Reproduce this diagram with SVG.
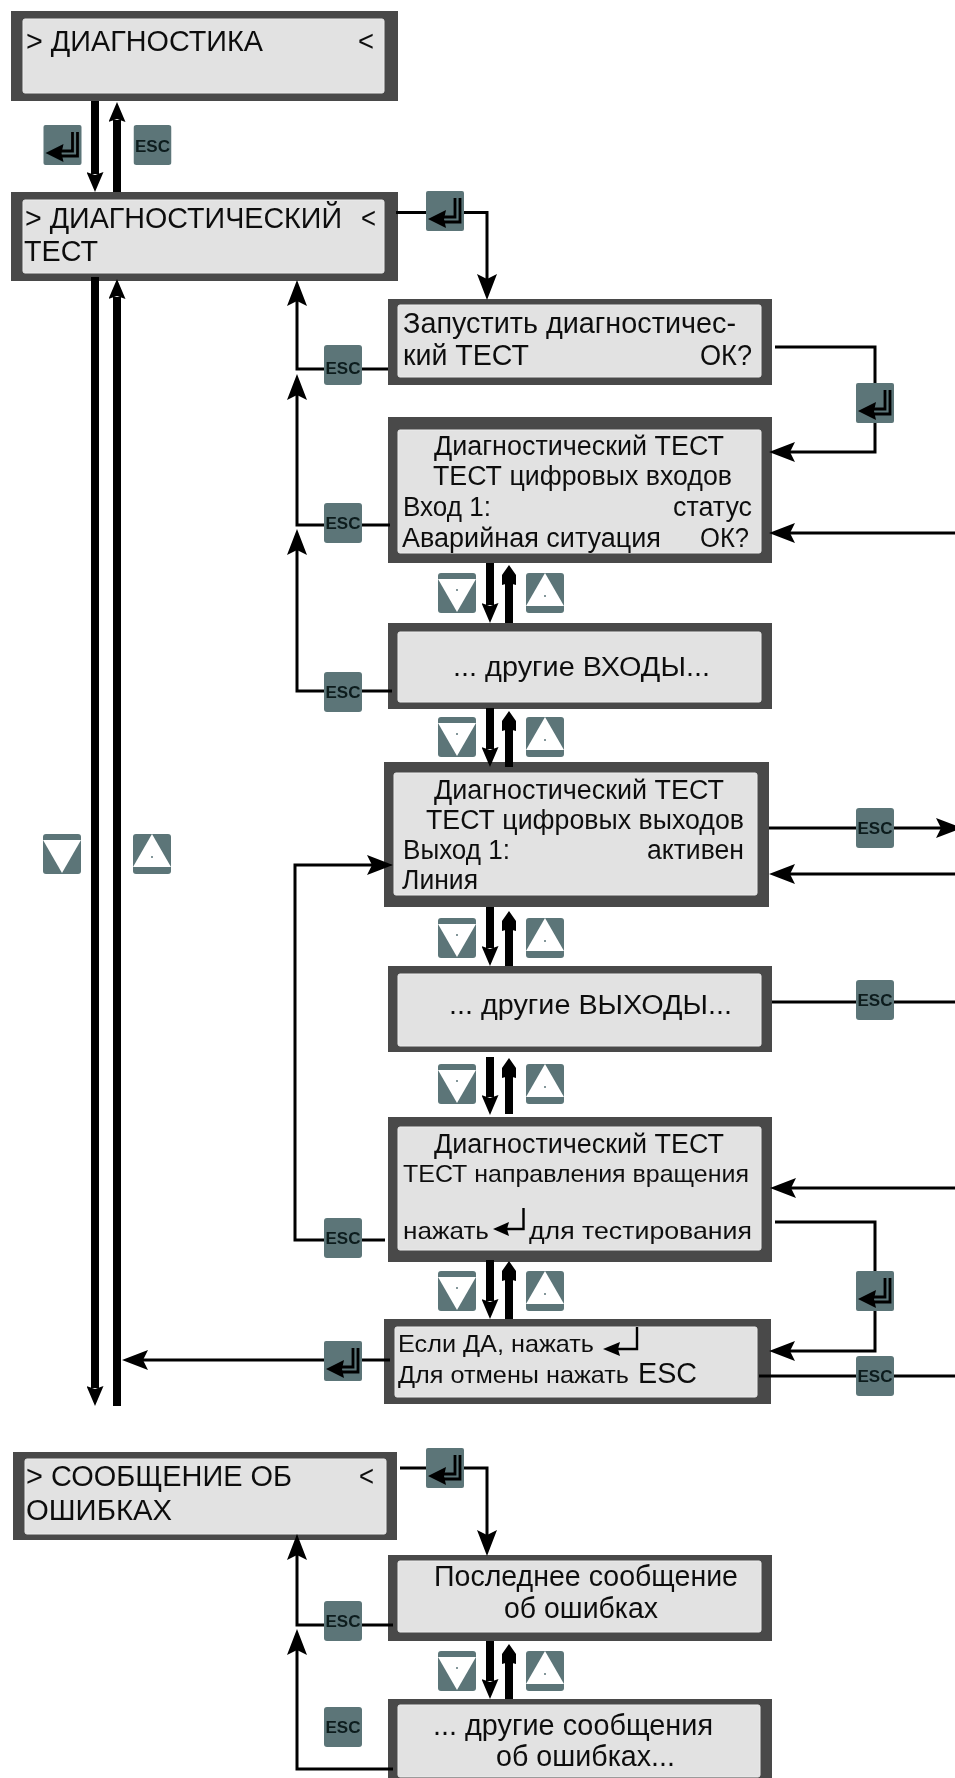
<svg xmlns="http://www.w3.org/2000/svg" width="955" height="1778" viewBox="0 0 955 1778">
<style>
.o{fill:#4a4a4a}
.i{fill:#e2e2e2;stroke:#ececec;stroke-width:1}
text{font-family:"Liberation Sans",Arial,sans-serif;fill:#111}
.l{font-size:29px}
.m{font-size:27px}
.s{font-size:24px}
.e{font-family:"Liberation Sans",Arial,sans-serif;font-size:17px;font-weight:bold;fill:#0c1c1e}
.t{fill:#5b7578}
.thin{fill:none;stroke:#000;stroke-width:3}
.arr{fill:none;stroke:#000;stroke-width:3;marker-end:url(#ah)}
.dn{fill:none;stroke:#000;stroke-width:8;marker-end:url(#bh)}
.up{fill:none;stroke:#000;stroke-width:8;marker-end:url(#uh)}
.bar{fill:none;stroke:#000;stroke-width:8}
</style>
<defs>
<filter id="soft" x="0" y="0" width="100%" height="100%"><feGaussianBlur stdDeviation="0.55"/></filter>
<marker id="ah" markerUnits="userSpaceOnUse" markerWidth="26" markerHeight="20" refX="5" refY="10" orient="auto" viewBox="0 0 26 20"><path d="M26,10 L0,0 L5,10 L0,20Z" fill="#000"/></marker>
<marker id="bh" markerUnits="userSpaceOnUse" markerWidth="20" markerHeight="17" refX="2" refY="8.5" orient="auto" viewBox="0 0 20 17"><path d="M20,8.5 L0,0 L3,8.5 L0,17Z" fill="#000"/></marker>
<marker id="uh" markerUnits="userSpaceOnUse" markerWidth="21" markerHeight="14" refX="3" refY="7" orient="auto" viewBox="0 0 21 14"><path d="M21,7 L11,0 L1,0 L3,7 L1,14 L11,14Z" fill="#000"/></marker>
<symbol id="enter" width="38" height="40" viewBox="0 0 38 40" overflow="visible">
<rect class="t" width="38" height="40" rx="2"/>
<path d="M29,7 V26 H16 M34,7 V31 H16" fill="none" stroke="#000" stroke-width="2.8"/>
<path d="M2,28 L20,19 L18,28 L20,37Z" fill="#000"/>
</symbol>
<symbol id="esc" width="38" height="40" viewBox="0 0 38 40"><rect class="t" width="38" height="40" rx="3"/></symbol>
<symbol id="down-plain" width="38" height="40" viewBox="0 0 38 40">
<rect class="t" width="38" height="40" rx="3"/>
<path d="M0,6 H38 L19,39Z" fill="#fff"/>
</symbol>
<symbol id="down" width="38" height="40" viewBox="0 0 38 40">
<rect class="t" width="38" height="40" rx="3"/>
<path d="M0,6 H38 L19,39Z" fill="#fff"/>
<circle cx="19" cy="17" r="1" fill="#5b7578"/>
</symbol>
<symbol id="up" width="38" height="40" viewBox="0 0 38 40">
<rect class="t" width="38" height="40" rx="3"/>
<path d="M19,0 L38,33 H0Z" fill="#fff"/>
<circle cx="19" cy="23" r="1" fill="#5b7578"/>
</symbol>
</defs>
<rect width="955" height="1778" fill="#fff"/>
<g filter="url(#soft)">
<g id="box-diag">
<rect class="o" x="11" y="11" width="387" height="90"/><rect class="i" x="23" y="19" width="361" height="74" rx="2"/>
<text class="l" x="26" y="51" textLength="237" lengthAdjust="spacingAndGlyphs">&gt; ДИАГНОСТИКА</text>
<text class="l" x="358" y="51" textLength="16" lengthAdjust="spacingAndGlyphs">&lt;</text>
</g>
<g id="box-test">
<rect class="o" x="11" y="192" width="387" height="89"/><rect class="i" x="23" y="200" width="361" height="73" rx="2"/>
<text class="l" x="25" y="228" textLength="317" lengthAdjust="spacingAndGlyphs">&gt; ДИАГНОСТИЧЕСКИЙ</text>
<text class="l" x="361" y="228" textLength="15" lengthAdjust="spacingAndGlyphs">&lt;</text>
<text class="l" x="24" y="261" textLength="74" lengthAdjust="spacingAndGlyphs">ТЕСТ</text>
</g>
<g id="box-start">
<rect class="o" x="388" y="299" width="384" height="86"/><rect class="i" x="398" y="305" width="363" height="72" rx="2"/>
<text class="l" x="403" y="333" textLength="333" lengthAdjust="spacingAndGlyphs">Запустить диагностичес-</text>
<text class="l" x="403" y="365" textLength="126" lengthAdjust="spacingAndGlyphs">кий ТЕСТ</text>
<text class="l" x="700" y="365" textLength="52" lengthAdjust="spacingAndGlyphs">ОК?</text>
</g>
<g id="box-inputs">
<rect class="o" x="388" y="417" width="384" height="146"/><rect class="i" x="398" y="430" width="363" height="123" rx="2"/>
<text class="m" x="434" y="455" textLength="290" lengthAdjust="spacingAndGlyphs">Диагностический ТЕСТ</text>
<text class="m" x="433" y="485" textLength="299" lengthAdjust="spacingAndGlyphs">ТЕСТ цифровых входов</text>
<text class="m" x="403" y="516" textLength="88" lengthAdjust="spacingAndGlyphs">Вход 1:</text>
<text class="m" x="673" y="516" textLength="79" lengthAdjust="spacingAndGlyphs">статус</text>
<text class="m" x="402" y="547" textLength="259" lengthAdjust="spacingAndGlyphs">Аварийная ситуация</text>
<text class="m" x="700" y="547" textLength="49" lengthAdjust="spacingAndGlyphs">ОК?</text>
</g>
<g id="box-more-inputs">
<rect class="o" x="388" y="623" width="384" height="86"/><rect class="i" x="398" y="632" width="363" height="70" rx="2"/>
<text class="m" x="453" y="676" textLength="257" lengthAdjust="spacingAndGlyphs">... другие ВХОДЫ...</text>
</g>
<g id="box-outputs">
<rect class="o" x="384" y="762" width="385" height="145"/><rect class="i" x="394" y="773" width="363" height="122" rx="2"/>
<text class="m" x="434" y="799" textLength="290" lengthAdjust="spacingAndGlyphs">Диагностический ТЕСТ</text>
<text class="m" x="426" y="829" textLength="318" lengthAdjust="spacingAndGlyphs">ТЕСТ цифровых выходов</text>
<text class="m" x="403" y="859" textLength="107" lengthAdjust="spacingAndGlyphs">Выход 1:</text>
<text class="m" x="647" y="859" textLength="97" lengthAdjust="spacingAndGlyphs">активен</text>
<text class="m" x="402" y="889" textLength="76" lengthAdjust="spacingAndGlyphs">Линия</text>
</g>
<g id="box-more-outputs">
<rect class="o" x="388" y="966" width="384" height="86"/><rect class="i" x="398" y="974" width="363" height="72" rx="2"/>
<text class="m" x="449" y="1014" textLength="283" lengthAdjust="spacingAndGlyphs">... другие ВЫХОДЫ...</text>
</g>
<g id="box-rotation">
<rect class="o" x="388" y="1117" width="384" height="145"/><rect class="i" x="398" y="1127" width="363" height="123" rx="2"/>
<text class="m" x="434" y="1153" textLength="290" lengthAdjust="spacingAndGlyphs">Диагностический ТЕСТ</text>
<text class="s" x="403" y="1182" textLength="346" lengthAdjust="spacingAndGlyphs">ТЕСТ направления вращения</text>
<text class="s" x="403" y="1239" textLength="86" lengthAdjust="spacingAndGlyphs">нажать</text>
<path d="M523.5,1208 V1229 H505" fill="none" stroke="#000" stroke-width="2.4"/>
<path d="M493,1229 L509,1222 L507,1229 L509,1236Z" fill="#000"/>
<text class="s" x="529" y="1239" textLength="223" lengthAdjust="spacingAndGlyphs">для тестирования</text>
</g>
<g id="box-confirm">
<rect class="o" x="384" y="1319" width="387" height="85"/><rect class="i" x="395" y="1327" width="362" height="70" rx="2"/>
<text class="s" x="398" y="1352" textLength="196" lengthAdjust="spacingAndGlyphs">Если ДА, нажать</text>
<path d="M637,1327 V1349 H615" fill="none" stroke="#000" stroke-width="2.4"/>
<path d="M603,1349 L620,1342 L618,1349 L620,1356Z" fill="#000"/>
<text class="s" x="398" y="1383" textLength="231" lengthAdjust="spacingAndGlyphs">Для отмены нажать</text>
<text class="l" x="638" y="1383" textLength="59" lengthAdjust="spacingAndGlyphs">ESC</text>
</g>
<g id="box-errors">
<rect class="o" x="13" y="1452" width="384" height="88"/><rect class="i" x="25" y="1459" width="361" height="75" rx="2"/>
<text class="l" x="26" y="1486" textLength="266" lengthAdjust="spacingAndGlyphs">&gt; СООБЩЕНИЕ ОБ</text>
<text class="l" x="359" y="1486" textLength="15" lengthAdjust="spacingAndGlyphs">&lt;</text>
<text class="l" x="26" y="1520" textLength="146" lengthAdjust="spacingAndGlyphs">ОШИБКАХ</text>
</g>
<g id="box-last-error">
<rect class="o" x="388" y="1555" width="384" height="86"/><rect class="i" x="398" y="1561" width="363" height="71" rx="2"/>
<text class="l" x="434" y="1586" textLength="304" lengthAdjust="spacingAndGlyphs">Последнее сообщение</text>
<text class="l" x="504" y="1618" textLength="154" lengthAdjust="spacingAndGlyphs">об ошибках</text>
</g>
<g id="box-more-errors">
<rect class="o" x="388" y="1699" width="384" height="79"/><rect class="i" x="398" y="1705" width="362" height="72" rx="2"/>
<text class="l" x="433" y="1735" textLength="280" lengthAdjust="spacingAndGlyphs">... другие сообщения</text>
<text class="l" x="496" y="1766" textLength="179" lengthAdjust="spacingAndGlyphs">об ошибках...</text>
</g>

<g id="connectors">
<path class="dn" d="M95,101 V174"/>
<path class="dn" d="M117,192 V120"/>
<path class="bar" d="M95,277 V1300"/><path class="dn" d="M95,1300 V1388"/>
<path class="dn" d="M117,1406 V297"/>
<path class="arr" d="M396,212.5 H487 V279"/>
<path class="arr" d="M388,369 H297 V301"/>
<path class="arr" d="M390,525 H297 V395"/>
<path class="arr" d="M392,691 H297 V550"/>
<path class="arr" d="M775,347 H875 V452 H790"/>
<path class="arr" d="M955,533 H790"/>
<path class="arr" d="M385,1240 H295 V865 H372"/>
<path class="arr" d="M769,828 H941"/>
<path class="arr" d="M955,874 H790"/>
<path class="thin" d="M772,1002 H955"/>
<path class="arr" d="M955,1188 H791"/>
<path class="arr" d="M775,1222 H875 V1351 H790"/>
<path class="thin" d="M759,1376 H955"/>
<path class="arr" d="M390,1360 H143"/>
<path class="arr" d="M400,1468 H487 V1535"/>
<path class="arr" d="M393,1625 H297 V1555"/>
<path class="arr" d="M393,1769 H297 V1650"/>
<path class="dn" d="M490,563 V605"/><path class="up" d="M509,623 V583"/>
<path class="dn" d="M490,708 V749"/><path class="up" d="M509,767 V729"/>
<path class="dn" d="M490,907 V948"/><path class="up" d="M509,966 V929"/>
<path class="dn" d="M490,1057 V1097"/><path class="up" d="M509,1114 V1076"/>
<path class="dn" d="M490,1260 V1301"/><path class="up" d="M509,1319 V1279"/>
<path class="dn" d="M490,1641 V1681"/><path class="up" d="M509,1699 V1662"/>
</g>

<g id="key-enter-1"><use href="#enter" x="43.5" y="125"/></g>
<g id="key-esc-1"><use href="#esc" x="133.5" y="125"/><text class="e" x="152.5" y="152" text-anchor="middle" textLength="35" lengthAdjust="spacingAndGlyphs">ESC</text></g>
<g id="key-enter-2"><use href="#enter" x="426" y="191"/></g>
<g id="key-esc-2"><use href="#esc" x="324" y="345"/><text class="e" x="343" y="374" text-anchor="middle" textLength="35" lengthAdjust="spacingAndGlyphs">ESC</text></g>
<g id="key-enter-3"><use href="#enter" x="856" y="383"/></g>
<g id="key-esc-3"><use href="#esc" x="324" y="503"/><text class="e" x="343" y="529" text-anchor="middle" textLength="35" lengthAdjust="spacingAndGlyphs">ESC</text></g>
<g id="key-down-1"><use href="#down" x="438" y="573"/></g>
<g id="key-up-1"><use href="#up" x="526" y="573"/></g>
<g id="key-esc-4"><use href="#esc" x="324" y="672"/><text class="e" x="343" y="698" text-anchor="middle" textLength="35" lengthAdjust="spacingAndGlyphs">ESC</text></g>
<g id="key-down-2"><use href="#down" x="438" y="717"/></g>
<g id="key-up-2"><use href="#up" x="526" y="717"/></g>
<g id="key-esc-5"><use href="#esc" x="856" y="808"/><text class="e" x="875" y="834" text-anchor="middle" textLength="35" lengthAdjust="spacingAndGlyphs">ESC</text></g>
<g id="key-down-big"><use href="#down-plain" x="43" y="834"/></g>
<g id="key-up-big"><use href="#up" x="133" y="834"/></g>
<g id="key-down-3"><use href="#down" x="438" y="918"/></g>
<g id="key-up-3"><use href="#up" x="526" y="918"/></g>
<g id="key-esc-6"><use href="#esc" x="856" y="980"/><text class="e" x="875" y="1006" text-anchor="middle" textLength="35" lengthAdjust="spacingAndGlyphs">ESC</text></g>
<g id="key-down-4"><use href="#down" x="438" y="1064"/></g>
<g id="key-up-4"><use href="#up" x="526" y="1064"/></g>
<g id="key-esc-7"><use href="#esc" x="324" y="1218"/><text class="e" x="343" y="1244" text-anchor="middle" textLength="35" lengthAdjust="spacingAndGlyphs">ESC</text></g>
<g id="key-down-5"><use href="#down" x="438" y="1271"/></g>
<g id="key-up-5"><use href="#up" x="526" y="1271"/></g>
<g id="key-enter-4"><use href="#enter" x="856" y="1271"/></g>
<g id="key-enter-5"><use href="#enter" x="324" y="1341"/></g>
<g id="key-esc-8"><use href="#esc" x="856" y="1356"/><text class="e" x="875" y="1382" text-anchor="middle" textLength="35" lengthAdjust="spacingAndGlyphs">ESC</text></g>
<g id="key-enter-6"><use href="#enter" x="426" y="1448"/></g>
<g id="key-esc-9"><use href="#esc" x="324" y="1601"/><text class="e" x="343" y="1627" text-anchor="middle" textLength="35" lengthAdjust="spacingAndGlyphs">ESC</text></g>
<g id="key-down-6"><use href="#down" x="438" y="1651"/></g>
<g id="key-up-6"><use href="#up" x="526" y="1651"/></g>
<g id="key-esc-10"><use href="#esc" x="324" y="1707"/><text class="e" x="343" y="1733" text-anchor="middle" textLength="35" lengthAdjust="spacingAndGlyphs">ESC</text></g>
</g>
</svg>
